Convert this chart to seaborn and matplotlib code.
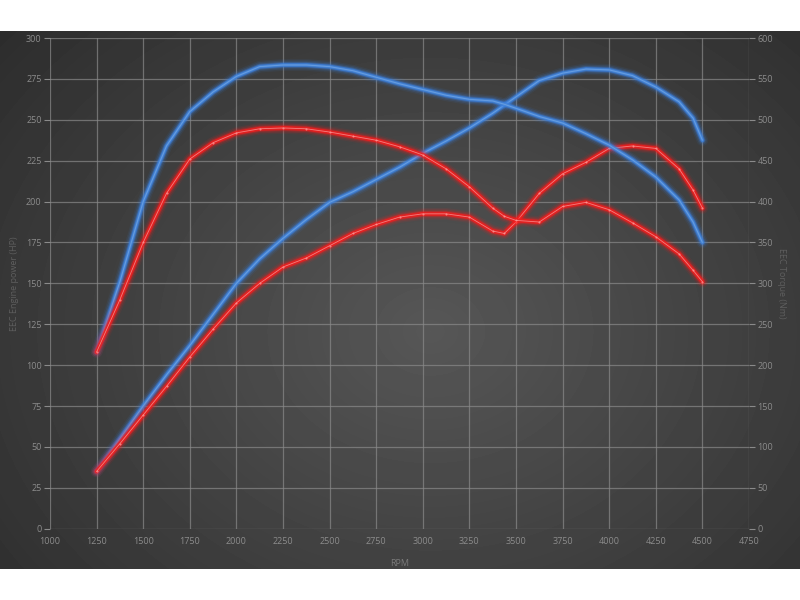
import numpy as np
import matplotlib
matplotlib.use("Agg")
import matplotlib.pyplot as plt
import seaborn as sns

rpm = [1250, 1375, 1500, 1625, 1750, 1875, 2000, 2125, 2250, 2375, 2500, 2625, 2750, 2875,
       3000, 3125, 3250, 3375, 3437, 3500, 3625, 3750, 3875, 4000, 4125, 4250, 4375, 4450, 4500]

# torque, right axis (Nm)
blue_torque = [216, 302, 400, 468, 510, 534, 553, 565, 567, 567, 565, 560, 552, 544, 537, 530,
               525, 523, 519, 514, 504, 496, 483, 469, 451, 430, 402, 375, 350]
red_torque = [216, 280, 350, 410, 452, 472, 484, 489, 490, 489, 485, 480, 475, 467, 457, 440,
              418, 392, 382, 377, 375, 394, 399, 390, 374, 357, 336, 316, 302]

# power, left axis (HP)
blue_power = [35, 55, 75, 94, 112, 131, 150, 165, 177.5, 189, 199.5, 206, 213.5, 221, 229.5, 237,
              245, 254, 259, 264, 274, 278.5, 281, 280.5, 277, 270, 261, 251, 237.5]
red_power = [35, 52, 69.5, 87, 105, 122, 138, 150, 160, 165.5, 173, 180.5, 186, 190.5, 192.5, 192.5,
             190.5, 182, 180.5, 187.5, 205, 217, 224, 232.5, 234, 232.5, 220, 207, 196]

sns.set_style("dark")
plt.rcParams["font.family"] = ["Open Sans", "DejaVu Sans"]

TXT = "#8c8c8c"
GRID = "#8a8a8a"

fig = plt.figure(figsize=(8, 6), dpi=100, facecolor="white")

# dark radial background band
bg = fig.add_axes([0, 31 / 600, 1, 538 / 600])
yy, xx = np.mgrid[0:538, 0:800]
r = np.sqrt(((xx - 430) / 520.0) ** 2 + ((yy - 300) / 420.0) ** 2)
shade = np.clip(0.34 - 0.15 * r, 0.17, 0.34)
bg.imshow(shade, cmap="gray", vmin=0, vmax=1, aspect="auto", interpolation="bilinear")
bg.set_axis_off()

ax = fig.add_axes([50 / 800, 71.3 / 600, 699 / 800, 490.7 / 600])
ax.set_facecolor("none")
ax2 = ax.twinx()
ax2.set_facecolor("none")


def glow(a, x, y, core, halo, centre, dots=False):
    for lw, al in [(8.5, 0.08), (6.5, 0.15), (4.5, 0.3), (3.0, 0.7)]:
        sns.lineplot(x=x, y=y, ax=a, color=halo, linewidth=lw, alpha=al, solid_capstyle="round")
    sns.lineplot(x=x, y=y, ax=a, color=core, linewidth=1.7, alpha=0.95, solid_joinstyle="round")
    sns.lineplot(x=x, y=y, ax=a, color=centre, linewidth=0.6, alpha=0.75,
                 marker="o" if dots else None, markersize=1.5, markeredgewidth=0)


glow(ax, rpm, blue_power, "#4a88d6", "#3a80e0", "#74a8e8")
glow(ax, rpm, red_power, "#e02424", "#ff1a1a", "#ff9a9a", dots=True)
glow(ax2, rpm, blue_torque, "#4a88d6", "#3a80e0", "#74a8e8")
glow(ax2, rpm, red_torque, "#e02424", "#ff1a1a", "#ff9a9a", dots=True)

ax.set_xlim(1000, 4750)
ax.set_ylim(0, 300)
ax2.set_ylim(0, 600)
ax.set_xticks(np.arange(1000, 4751, 250))
ax.set_yticks(np.arange(0, 301, 25))
ax2.set_yticks(np.arange(0, 601, 50))

ax.grid(True, color=GRID, linewidth=0.9, alpha=0.7)
ax2.grid(False)
for a in (ax, ax2):
    for s in a.spines.values():
        s.set_visible(False)
    a.tick_params(colors=GRID, labelcolor=TXT, labelsize=6.5, length=4, width=0.8, pad=2)
ax.tick_params(axis="both", direction="out")
ax2.tick_params(axis="y", direction="out", left=False, right=True)

ax.set_xlabel("RPM", color="#7a7a7a", fontsize=6.5, labelpad=9)
ax.set_ylabel("EEC Engine power (HP)", color="#5e5e5e", fontsize=6.5, labelpad=5)
ax2.set_ylabel("EEC Torque (Nm)", color="#5e5e5e", fontsize=6.5, rotation=-90, labelpad=9)

fig.savefig("out.png", dpi=100, facecolor="white")
